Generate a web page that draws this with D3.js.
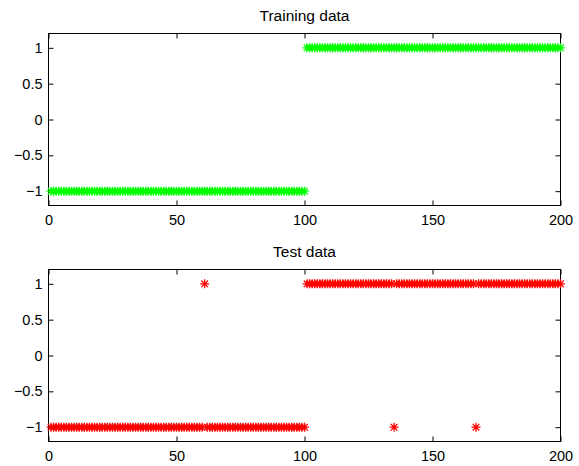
<!DOCTYPE html>
<html>
<head>
<meta charset="utf-8">
<script src="https://cdn.jsdelivr.net/npm/d3@7"></script>
<style>
  body { margin: 0; background: #fff; }
  svg { display: block; }
  text { font-family: "Liberation Sans", Arial, Helvetica, sans-serif; fill: #000; }
</style>
</head>
<body>
<div id="chart"></div>
<script>
// class labels of each sample (sample number = position in array, 1..200)
var trainLabels = [
  -1,-1,-1,-1,-1,-1,-1,-1,-1,-1,-1,-1,-1,-1,-1,-1,-1,-1,-1,-1,
  -1,-1,-1,-1,-1,-1,-1,-1,-1,-1,-1,-1,-1,-1,-1,-1,-1,-1,-1,-1,
  -1,-1,-1,-1,-1,-1,-1,-1,-1,-1,-1,-1,-1,-1,-1,-1,-1,-1,-1,-1,
  -1,-1,-1,-1,-1,-1,-1,-1,-1,-1,-1,-1,-1,-1,-1,-1,-1,-1,-1,-1,
  -1,-1,-1,-1,-1,-1,-1,-1,-1,-1,-1,-1,-1,-1,-1,-1,-1,-1,-1,-1,
   1, 1, 1, 1, 1, 1, 1, 1, 1, 1, 1, 1, 1, 1, 1, 1, 1, 1, 1, 1,
   1, 1, 1, 1, 1, 1, 1, 1, 1, 1, 1, 1, 1, 1, 1, 1, 1, 1, 1, 1,
   1, 1, 1, 1, 1, 1, 1, 1, 1, 1, 1, 1, 1, 1, 1, 1, 1, 1, 1, 1,
   1, 1, 1, 1, 1, 1, 1, 1, 1, 1, 1, 1, 1, 1, 1, 1, 1, 1, 1, 1,
   1, 1, 1, 1, 1, 1, 1, 1, 1, 1, 1, 1, 1, 1, 1, 1, 1, 1, 1, 1
];
var testLabels = [
  -1,-1,-1,-1,-1,-1,-1,-1,-1,-1,-1,-1,-1,-1,-1,-1,-1,-1,-1,-1,
  -1,-1,-1,-1,-1,-1,-1,-1,-1,-1,-1,-1,-1,-1,-1,-1,-1,-1,-1,-1,
  -1,-1,-1,-1,-1,-1,-1,-1,-1,-1,-1,-1,-1,-1,-1,-1,-1,-1,-1,-1,
   1,-1,-1,-1,-1,-1,-1,-1,-1,-1,-1,-1,-1,-1,-1,-1,-1,-1,-1,-1,
  -1,-1,-1,-1,-1,-1,-1,-1,-1,-1,-1,-1,-1,-1,-1,-1,-1,-1,-1,-1,
   1, 1, 1, 1, 1, 1, 1, 1, 1, 1, 1, 1, 1, 1, 1, 1, 1, 1, 1, 1,
   1, 1, 1, 1, 1, 1, 1, 1, 1, 1, 1, 1, 1, 1,-1, 1, 1, 1, 1, 1,
   1, 1, 1, 1, 1, 1, 1, 1, 1, 1, 1, 1, 1, 1, 1, 1, 1, 1, 1, 1,
   1, 1, 1, 1, 1, 1,-1, 1, 1, 1, 1, 1, 1, 1, 1, 1, 1, 1, 1, 1,
   1, 1, 1, 1, 1, 1, 1, 1, 1, 1, 1, 1, 1, 1, 1, 1, 1, 1, 1, 1
];
var xTicks = [0, 50, 100, 150, 200];
var yTicks = [-1, -0.5, 0, 0.5, 1];
var yTickLabels = ["\u22121", "\u22120.5", "0", "0.5", "1"];

var width = 579, height = 466;
var left = 48.5, right = 560.5;

var svg = d3.select("#chart").append("svg")
    .attr("width", width)
    .attr("height", height);

var x = d3.scaleLinear().domain([0, 200]).range([left, right]);

// MATLAB style '*' marker
var star = "M-4.5,0L4.5,0M0,-4.5L0,4.5M-3.3,-3.3L3.3,3.3M-3.3,3.3L3.3,-3.3";

function drawPanel(labels, title, color, top, bottom) {
    var y = d3.scaleLinear().domain([-1.2, 1.2]).range([bottom, top]);
    var g = svg.append("g");

    g.append("text")
        .attr("x", (left + right) / 2)
        .attr("y", top - 12.8)
        .attr("text-anchor", "middle")
        .style("font-size", "15.5px")
        .text(title);

    // box first so markers sit on top of it
    g.append("rect")
        .attr("x", left)
        .attr("y", top)
        .attr("width", right - left)
        .attr("height", bottom - top)
        .attr("fill", "none")
        .attr("stroke", "#000")
        .attr("stroke-width", 1);

    // axes with inward ticks (box style)
    g.append("g")
        .attr("transform", "translate(0," + bottom + ")")
        .call(d3.axisBottom(x).tickValues(xTicks).tickSizeInner(-5).tickSizeOuter(0).tickPadding(9));
    g.append("g")
        .attr("transform", "translate(0," + top + ")")
        .call(d3.axisTop(x).tickValues(xTicks).tickSizeInner(-5).tickSizeOuter(0).tickFormat(""));
    g.append("g")
        .attr("transform", "translate(" + left + ",0)")
        .call(d3.axisLeft(y).tickValues(yTicks).tickSizeInner(-5).tickSizeOuter(0).tickPadding(6)
            .tickFormat(function(d, i) { return yTickLabels[i]; }));
    g.append("g")
        .attr("transform", "translate(" + right + ",0)")
        .call(d3.axisRight(y).tickValues(yTicks).tickSizeInner(-5).tickSizeOuter(0).tickFormat(""));

    g.selectAll(".domain").remove();
    g.selectAll(".tick line").attr("stroke", "#000");
    g.selectAll(".tick text")
        .style("font-size", "14.5px")
        .style("font-family", "'Liberation Sans', Arial, sans-serif")
        .attr("fill", "#000");

    g.selectAll("path.pt")
        .data(labels)
        .enter().append("path")
        .attr("class", "pt")
        .attr("d", star)
        .attr("transform", function(d, i) { return "translate(" + x(i + 1) + "," + y(d) + ")"; })
        .attr("stroke", color)
        .attr("stroke-width", 1.3)
        .attr("fill", "none");
}

drawPanel(trainLabels, "Training data", "#00ff00", 33.5, 205.5);
drawPanel(testLabels, "Test data", "#ff0000", 269.5, 441.5);
</script>
</body>
</html>
